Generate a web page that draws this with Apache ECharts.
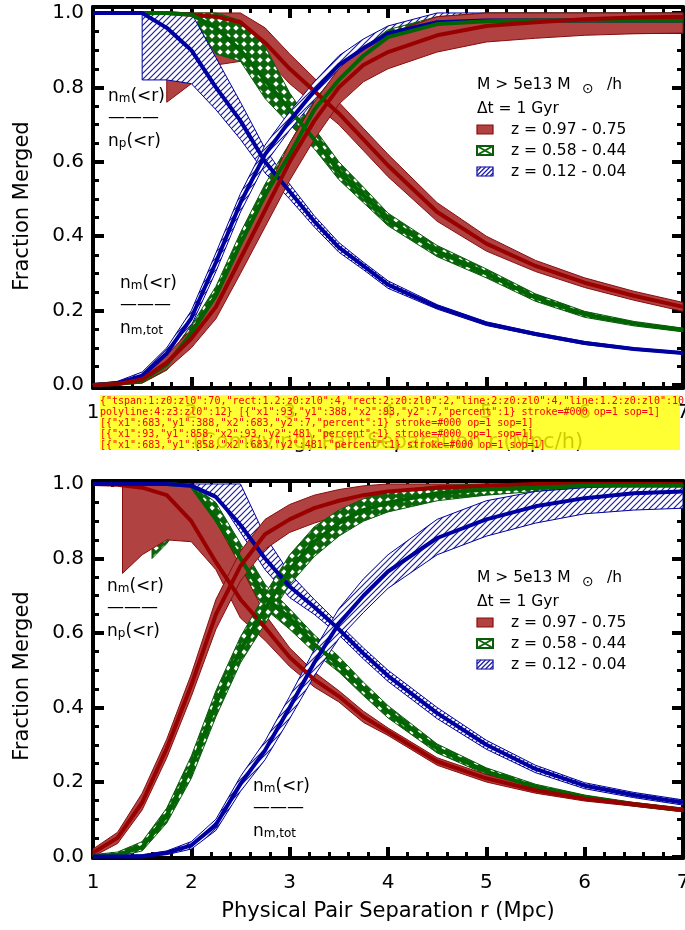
<!DOCTYPE html>
<html>
<head>
<meta charset="utf-8">
<script src="https://cdn.jsdelivr.net/npm/echarts@6/dist/echarts.min.js"></script>
<style>
  html, body { margin: 0; padding: 0; background: #fff; }
  #chart { width: 685px; height: 930px; }
  #dbg { position: absolute; left: 100px; top: 395px; width: 580px; font: 10px monospace; color: #f00; background: rgba(255,255,0,0.8); }
</style>
</head>
<body>
<div id="chart"></div>
<div id="dbg"></div>
<script>
const FONT = 'DejaVu Sans'

const rGrid = [1, 1.25, 1.5, 1.75, 2, 2.25, 2.5, 2.75, 3, 3.25, 3.5, 3.75, 4, 4.5, 5, 5.5, 6, 6.5, 7]

const comRedPairMid = [1, 1, 1, 1, 0.995, 0.99, 0.975, 0.92, 0.85, 0.79, 0.73, 0.66, 0.59, 0.465, 0.38, 0.32, 0.275, 0.24, 0.21]
const comRedPairR = [1.75, 2, 2.25, 2.5, 2.75, 3, 3.25, 3.5, 3.75, 4, 4.5, 5, 5.5, 6, 6.5, 7]
const comRedPairUp = [1, 1, 1, 1, 0.96, 0.89, 0.825, 0.76, 0.69, 0.62, 0.49, 0.40, 0.335, 0.288, 0.252, 0.222]
const comRedPairLo = [0.76, 0.81, 0.86, 0.87, 0.88, 0.81, 0.755, 0.70, 0.63, 0.56, 0.44, 0.36, 0.305, 0.262, 0.228, 0.198]

const comGreenPairMid = [1, 1, 1, 1, 0.995, 0.96, 0.90, 0.82, 0.74, 0.66, 0.575, 0.51, 0.445, 0.36, 0.30, 0.235, 0.19, 0.165, 0.148]
const comGreenPairR = [1.75, 2, 2.25, 2.5, 2.75, 3, 3.25, 3.5, 3.75, 4, 4.5, 5, 5.5, 6, 6.5, 7]
const comGreenPairUp = [1, 1, 1, 0.98, 0.91, 0.785, 0.69, 0.60, 0.532, 0.462, 0.375, 0.312, 0.245, 0.198, 0.171, 0.153]
const comGreenPairLo = [1, 0.99, 0.89, 0.87, 0.77, 0.70, 0.635, 0.552, 0.49, 0.428, 0.345, 0.288, 0.225, 0.182, 0.159, 0.143]

const comBluePairMid = [1, 1, 1, 0.96, 0.90, 0.80, 0.71, 0.60, 0.52, 0.44, 0.37, 0.32, 0.27, 0.21, 0.165, 0.137, 0.113, 0.097, 0.086]
const comBluePairR = [1.5, 1.75, 2, 2.25, 2.5, 2.75, 3, 3.25, 3.5, 3.75, 4, 4.5, 5, 5.5, 6, 6.5, 7]
const comBluePairUp = [1, 1, 1, 0.88, 0.76, 0.635, 0.54, 0.455, 0.383, 0.33, 0.28, 0.216, 0.17, 0.141, 0.117, 0.10, 0.089]
const comBluePairLo = [0.82, 0.82, 0.81, 0.74, 0.66, 0.57, 0.50, 0.425, 0.357, 0.31, 0.26, 0.204, 0.16, 0.133, 0.109, 0.094, 0.083]

const comRedMergMid = [0, 0.003, 0.015, 0.06, 0.125, 0.21, 0.34, 0.47, 0.60, 0.71, 0.80, 0.86, 0.895, 0.94, 0.965, 0.975, 0.983, 0.988, 0.99]
const comRedMergUp = [0.004, 0.008, 0.025, 0.08, 0.15, 0.245, 0.38, 0.515, 0.65, 0.76, 0.85, 0.91, 0.945, 0.99, 1, 1, 1, 1, 1]
const comRedMergLo = [0, 0, 0.006, 0.042, 0.10, 0.178, 0.30, 0.425, 0.55, 0.66, 0.755, 0.815, 0.85, 0.895, 0.922, 0.932, 0.94, 0.944, 0.946]

const comGreenMergMid = [0, 0.003, 0.012, 0.055, 0.14, 0.24, 0.38, 0.51, 0.62, 0.74, 0.82, 0.885, 0.935, 0.97, 0.978, 0.98, 0.98, 0.98, 0.98]
const comGreenMergUp = [0.003, 0.006, 0.02, 0.07, 0.16, 0.265, 0.41, 0.54, 0.65, 0.765, 0.845, 0.905, 0.955, 0.99, 1, 1, 1, 1, 1]
const comGreenMergLo = [0, 0, 0.005, 0.04, 0.12, 0.215, 0.35, 0.48, 0.59, 0.715, 0.795, 0.865, 0.915, 0.95, 0.955, 0.955, 0.955, 0.955, 0.955]

const comBlueMergMid = [0, 0.005, 0.025, 0.085, 0.18, 0.33, 0.49, 0.62, 0.71, 0.79, 0.86, 0.905, 0.945, 0.975, 0.98, 0.98, 0.98, 0.98, 0.98]
const comBlueMergUp = [0.003, 0.01, 0.035, 0.10, 0.20, 0.355, 0.515, 0.645, 0.735, 0.815, 0.885, 0.93, 0.965, 1, 1, 1, 1, 1, 1]
const comBlueMergLo = [0, 0, 0.015, 0.07, 0.16, 0.305, 0.465, 0.595, 0.685, 0.765, 0.835, 0.88, 0.925, 0.945, 0.945, 0.945, 0.945, 0.945, 0.945]

const phyRedPairMid = [1, 0.998, 0.99, 0.97, 0.90, 0.79, 0.69, 0.615, 0.535, 0.475, 0.43, 0.375, 0.335, 0.255, 0.21, 0.178, 0.155, 0.14, 0.125]
const phyRedPairR = [1.3, 1.5, 1.75, 2, 2.25, 2.5, 2.75, 3, 3.25, 3.5, 3.75, 4, 4.5, 5, 5.5, 6, 6.5, 7]
const phyRedPairUp = [1, 1, 1, 1, 0.90, 0.78, 0.65, 0.56, 0.495, 0.445, 0.39, 0.345, 0.265, 0.22, 0.186, 0.161, 0.145, 0.13]
const phyRedPairLo = [0.76, 0.81, 0.85, 0.845, 0.77, 0.64, 0.58, 0.51, 0.455, 0.415, 0.36, 0.325, 0.245, 0.2, 0.17, 0.149, 0.135, 0.12]

const phyGreenPairMid = [1, 1, 1, 1, 0.995, 0.905, 0.80, 0.695, 0.64, 0.57, 0.515, 0.45, 0.39, 0.29, 0.228, 0.187, 0.16, 0.14, 0.125]
const phyGreenPairR = [1.6, 1.75, 2, 2.25, 2.5, 2.75, 3, 3.25, 3.5, 3.75, 4, 4.5, 5, 5.5, 6, 6.5, 7]
const phyGreenPairUp = [1, 1, 1, 0.95, 0.84, 0.73, 0.665, 0.595, 0.537, 0.468, 0.405, 0.302, 0.238, 0.194, 0.165, 0.145, 0.13]
const phyGreenPairLo = [0.80, 0.84, 0.93, 0.86, 0.76, 0.665, 0.61, 0.548, 0.495, 0.432, 0.372, 0.278, 0.22, 0.181, 0.155, 0.135, 0.12]

const phyBluePairMid = [1, 1, 1, 1, 0.995, 0.965, 0.89, 0.80, 0.725, 0.67, 0.61, 0.545, 0.485, 0.385, 0.30, 0.235, 0.19, 0.165, 0.145]
const phyBluePairR = [2, 2.25, 2.5, 2.75, 3, 3.25, 3.5, 3.75, 4, 4.5, 5, 5.5, 6, 6.5, 7]
const phyBluePairUp = [1, 1, 1, 0.86, 0.76, 0.69, 0.625, 0.56, 0.50, 0.40, 0.312, 0.245, 0.198, 0.172, 0.152]
const phyBluePairLo = [1, 0.97, 0.87, 0.77, 0.695, 0.65, 0.595, 0.53, 0.47, 0.37, 0.288, 0.225, 0.182, 0.158, 0.138]

const phyRedMergMid = [0.01, 0.05, 0.145, 0.29, 0.46, 0.65, 0.78, 0.865, 0.905, 0.935, 0.955, 0.97, 0.98, 0.99, 0.995, 1, 1, 1, 1]
const phyRedMergUp = [0.02, 0.065, 0.17, 0.315, 0.49, 0.69, 0.82, 0.905, 0.945, 0.97, 0.985, 0.995, 1, 1, 1, 1, 1, 1, 1]
const phyRedMergLo = [0, 0.035, 0.125, 0.265, 0.43, 0.61, 0.74, 0.825, 0.87, 0.895, 0.915, 0.935, 0.95, 0.965, 0.975, 0.985, 0.99, 0.99, 0.99]

const phyGreenMergMid = [0, 0.005, 0.025, 0.11, 0.24, 0.41, 0.555, 0.665, 0.77, 0.845, 0.895, 0.93, 0.95, 0.975, 0.985, 0.99, 0.995, 0.995, 0.995]
const phyGreenMergUp = [0.005, 0.012, 0.04, 0.13, 0.27, 0.445, 0.59, 0.705, 0.81, 0.885, 0.93, 0.96, 0.98, 0.995, 1, 1, 1, 1, 1]
const phyGreenMergLo = [0, 0, 0.015, 0.09, 0.21, 0.375, 0.52, 0.625, 0.73, 0.805, 0.86, 0.9, 0.925, 0.955, 0.97, 0.98, 0.985, 0.99, 0.99]

const phyBlueMergMid = [0, 0, 0, 0.01, 0.03, 0.085, 0.195, 0.285, 0.40, 0.52, 0.625, 0.70, 0.765, 0.855, 0.905, 0.94, 0.962, 0.975, 0.98]
const phyBlueMergUp = [0, 0.003, 0.005, 0.015, 0.04, 0.10, 0.215, 0.31, 0.43, 0.555, 0.665, 0.745, 0.81, 0.905, 0.955, 0.98, 0.99, 0.995, 0.995]
const phyBlueMergLo = [0, 0, 0, 0.005, 0.02, 0.07, 0.175, 0.26, 0.37, 0.485, 0.585, 0.655, 0.72, 0.81, 0.86, 0.895, 0.92, 0.93, 0.935]

const yTicks = [0, 0.2, 0.4, 0.6, 0.8, 1.0]
const legendLabels = ['z = 0.97 - 0.75', 'z = 0.58 - 0.44', 'z = 0.12 - 0.04']

const makeCrossPattern = () => {
  const c = document.createElement('canvas')
  c.width = 8; c.height = 8
  const g = c.getContext('2d')
  g.fillStyle = '#0b660b'
  g.fillRect(0, 0, 8, 8)
  g.fillStyle = '#ffffff'
  g.beginPath()
  g.moveTo(4, 1.2); g.lineTo(6.8, 4); g.lineTo(4, 6.8); g.lineTo(1.2, 4)
  g.closePath()
  g.fill()
  return c
}
const makeHatchPattern = () => {
  const c = document.createElement('canvas')
  c.width = 6; c.height = 6
  const g = c.getContext('2d')
  g.fillStyle = '#ffffff'
  g.fillRect(0, 0, 6, 6)
  g.strokeStyle = '#1c1caa'
  g.lineWidth = 1.2
  g.beginPath()
  g.moveTo(-1, 7); g.lineTo(7, -1)
  g.moveTo(-1, 1); g.lineTo(1, -1)
  g.moveTo(5, 7); g.lineTo(7, 5)
  g.stroke()
  return c
}

const STYLE = {
  red: { fill: '#b04242', edge: '#8a0c0c', line: '#990000' },
  green: { fill: { image: makeCrossPattern(), repeat: 'repeat' }, edge: '#0a5a0a', line: '#006400' },
  blue: { fill: { image: makeHatchPattern(), repeat: 'repeat' }, edge: '#0000a0', line: '#0000a0' }
}

const series = []
const addBand = (g, xs, lo, up, kind) => {
  const rows = xs.map((x, i) => [x, lo[i], up[i]])
  const st = STYLE[kind]
  series.push({
    type: 'custom', xAxisIndex: g * 2, yAxisIndex: g * 2, silent: true, data: rows,
    renderItem: (params, api) => {
      if (params.dataIndex !== 0) return null
      const pts = []
      rows.forEach(r => pts.push(api.coord([r[0], r[2]])))
      for (let i = rows.length - 1; i >= 0; i--) pts.push(api.coord([rows[i][0], rows[i][1]]))
      return { type: 'polygon', shape: { points: pts }, style: { fill: st.fill, stroke: st.edge, lineWidth: 1 } }
    }
  })
}
const addLine = (g, xs, ys, kind) => {
  series.push({
    type: 'line', xAxisIndex: g * 2, yAxisIndex: g * 2, silent: true, symbol: 'none',
    data: xs.map((x, i) => [x, ys[i]]),
    lineStyle: { color: STYLE[kind].line, width: 4 }
  })
}
const addCurve = (g, xs, lo, up, midX, mid, kind) => {
  addBand(g, xs, lo, up, kind)
  addLine(g, midX, mid, kind)
}

addCurve(0, comRedPairR, comRedPairLo, comRedPairUp, rGrid, comRedPairMid, 'red')
addCurve(0, comGreenPairR, comGreenPairLo, comGreenPairUp, rGrid, comGreenPairMid, 'green')
addCurve(0, comBluePairR, comBluePairLo, comBluePairUp, rGrid, comBluePairMid, 'blue')
addCurve(0, rGrid, comBlueMergLo, comBlueMergUp, rGrid, comBlueMergMid, 'blue')
addCurve(0, rGrid, comGreenMergLo, comGreenMergUp, rGrid, comGreenMergMid, 'green')
addCurve(0, rGrid, comRedMergLo, comRedMergUp, rGrid, comRedMergMid, 'red')

addCurve(1, phyGreenPairR, phyGreenPairLo, phyGreenPairUp, rGrid, phyGreenPairMid, 'green')
addCurve(1, phyRedPairR, phyRedPairLo, phyRedPairUp, rGrid, phyRedPairMid, 'red')
addCurve(1, phyBluePairR, phyBluePairLo, phyBluePairUp, rGrid, phyBluePairMid, 'blue')
addCurve(1, rGrid, phyRedMergLo, phyRedMergUp, rGrid, phyRedMergMid, 'red')
addCurve(1, rGrid, phyGreenMergLo, phyGreenMergUp, rGrid, phyGreenMergMid, 'green')
addCurve(1, rGrid, phyBlueMergLo, phyBlueMergUp, rGrid, phyBlueMergMid, 'blue')

const axisLineOpt = () => ({ show: true, onZero: false, lineStyle: { color: '#000', width: 4 } })
const axisTickOpt = () => ({ show: true, inside: true, length: 11, lineStyle: { color: '#000', width: 4 } })
const minorTickOpt = (n) => ({ show: true, splitNumber: n, length: 6, lineStyle: { color: '#000', width: 3 } })

const makeX = (g) => ['bottom', 'top'].map(pos => ({
  type: 'value', gridIndex: g, position: pos, min: 1, max: 7, interval: 1,
  axisLine: axisLineOpt(), axisTick: axisTickOpt(), minorTick: minorTickOpt(5),
  splitLine: { show: false },
  axisLabel: pos === 'bottom' ? { show: true, margin: 15, fontSize: 20, fontFamily: FONT, color: '#000' } : { show: false }
}))
const makeY = (g, lo, hi) => ['left', 'right'].map(pos => ({
  type: 'value', gridIndex: g, position: pos, min: lo, max: hi, splitNumber: 5,
  axisLine: axisLineOpt(), axisTick: axisTickOpt(), minorTick: minorTickOpt(4),
  splitLine: { show: false },
  axisLabel: pos === 'left'
    ? { show: true, margin: 9, fontSize: 20, fontFamily: FONT, color: '#000',
        formatter: v => (yTicks.some(t => Math.abs(t - v) < 1e-6) ? v.toFixed(1) : '') }
    : { show: false }
}))

const text = (x, y, str, size, extra) => ({
  type: 'text', x, y, silent: true,
  style: Object.assign({ text: str, fontSize: size, fontFamily: FONT, fill: '#000', verticalAlign: 'middle', align: 'left' }, extra || {})
})
const richFrac = (x, y, sub, tail) => ({
  type: 'text', x, y, silent: true,
  style: {
    text: '{n|n}{s|' + sub + '}' + (tail ? '{n|' + tail + '}' : ''),
    verticalAlign: 'middle', align: 'left', fill: '#000',
    rich: {
      n: { fontSize: 17, fontFamily: FONT, lineHeight: 20, verticalAlign: 'bottom', fill: '#000' },
      s: { fontSize: 12, fontFamily: FONT, lineHeight: 1, verticalAlign: 'bottom', fill: '#000' }
    }
  }
})
const fraction = (x, y, denSub, denTail) => [
  richFrac(x, y, 'm', '(<r)'),
  text(x, y + 23, '———', 17),
  richFrac(x, y + 45, denSub, denTail)
]
const seg = (x1, y1, x2, y2, color, w) => ({
  type: 'line', silent: true, shape: { x1, y1, x2, y2 }, style: { stroke: color, lineWidth: w }
})
const swatch = (kind, x, y) => {
  const w = 16, h = 9
  if (kind === 'red') {
    return [{ type: 'rect', silent: true, shape: { x, y, width: w, height: h }, style: { fill: '#b04242', stroke: '#8a0c0c', lineWidth: 1.2 } }]
  }
  if (kind === 'green') {
    return [
      { type: 'rect', silent: true, shape: { x, y, width: w, height: h }, style: { fill: '#fff', stroke: '#0a5a0a', lineWidth: 2 } },
      seg(x, y, x + w, y + h, '#0b660b', 2),
      seg(x, y + h, x + w, y, '#0b660b', 2)
    ]
  }
  const els = [{ type: 'rect', silent: true, shape: { x, y, width: w, height: h }, style: { fill: '#fff', stroke: '#0000a0', lineWidth: 1.2 } }]
  for (let k = 0; k < 5; k++) {
    const x0 = x - 5 + k * 4.5
    const xa = Math.max(x0, x), ya = y + h - (xa - x0)
    const xb = Math.min(x0 + h, x + w), yb = y + h - (xb - x0)
    if (xb > xa) els.push(seg(xa, ya, xb, yb, '#1c1caa', 1.2))
  }
  return els
}
const legendBlock = (dy) => {
  let els = [
    text(477, 85 + dy, 'M > 5e13 M', 15.5),
    text(582, 89 + dy, '⊙', 14),
    text(607, 85 + dy, '/h', 15.5),
    text(477, 109 + dy, 'Δt = 1 Gyr', 15.5)
  ]
  ;['red', 'green', 'blue'].forEach((k, i) => {
    const yc = 129.5 + i * 21 + dy
    els = els.concat(swatch(k, 477, yc - 4.5))
    els.push(text(511, yc, legendLabels[i], 15.5))
  })
  return els
}

const graphics = [].concat(
  legendBlock(0),
  legendBlock(493),
  fraction(108, 95, 'p', '(<r)'),
  fraction(120, 282, 'm,tot', ''),
  fraction(107, 585, 'p', '(<r)'),
  fraction(253, 785, 'm,tot', ''),
  [
    text(388, 443, '(Comoving) Pair Separation r (Mpc/h)', 21, { align: 'center' }),
    text(388, 912, 'Physical Pair Separation r (Mpc)', 21, { align: 'center' }),
    Object.assign(text(0, 0, 'Fraction Merged', 21, { align: 'center' }), { x: 23, y: 206, rotation: Math.PI / 2 }),
    Object.assign(text(0, 0, 'Fraction Merged', 21, { align: 'center' }), { x: 23, y: 676, rotation: Math.PI / 2 })
  ]
)

const chart = echarts.init(document.getElementById('chart'), null, { renderer: 'canvas' })
chart.setOption({
  animation: false,
  backgroundColor: '#fff',
  grid: [
    { left: 93, top: 7, width: 590, height: 381, outerBoundsMode: 'none' },
    { left: 93, top: 481, width: 590, height: 377, outerBoundsMode: 'none' }
  ],
  xAxis: makeX(0).concat(makeX(1)),
  yAxis: makeY(0, -0.008, 1.016).concat(makeY(1, -0.004, 1.008)),
  series,
  graphic: graphics
})

// diagnostics
const all = chart.getZr().storage.getDisplayList(true, true)
const info = {}
all.forEach(el => {
  const k = el.type + ':' + (el.style && el.style.lineWidth) + (el.ignore ? ':IGN' : '') + (el.invisible ? ':INV' : '') + ':z' + el.z + ':zl' + el.zlevel
  info[k] = (info[k] || 0) + 1
})
let sample = ''
const lines4 = all.filter(el => el.type === 'line' && el.style && el.style.lineWidth === 4)
lines4.slice(0, 4).forEach(el => { sample += ' [' + JSON.stringify(el.shape) + ' stroke=' + el.style.stroke + ' op=' + el.style.opacity + ' sop=' + el.style.strokeOpacity + ']' })
document.getElementById('dbg').textContent = JSON.stringify(info) + sample
</script>
</body>
</html>
